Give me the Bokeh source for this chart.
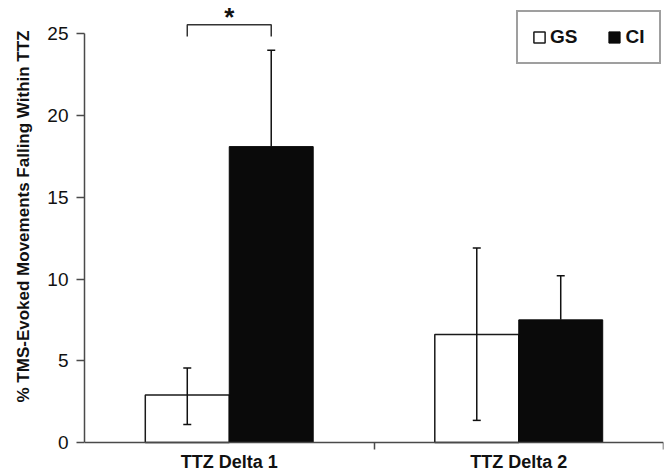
from bokeh.plotting import figure
from bokeh.models import (Range1d, FixedTicker, Whisker, ColumnDataSource, Legend,
                          LegendItem, TeeHead, Title)
from bokeh.core.properties import value
from bokeh.embed import file_html
from bokeh.resources import INLINE

# ---- data ----
categories = ["TTZ Delta 1", "TTZ Delta 2"]
groups = ["GS", "CI"]
gs_mean = [2.9, 6.6]
gs_lower = [1.1, 1.35]
gs_upper = [4.55, 11.9]
ci_mean = [18.1, 7.5]
ci_upper = [24.0, 10.2]
y_ticks = [0, 5, 10, 15, 20, 25]
y_label = "% TMS-Evoked Movements Falling Within TTZ"
sig_category = 0
sig_text = "*"

FONT = "Liberation Sans Narrow, Arial Narrow, Liberation Sans, Arial, sans-serif"
AXIS_COLOR = "#4a4a4a"
BAR_W = 0.29

centers = [i + 0.5 for i in range(len(categories))]
gs_x = [c - BAR_W / 2 for c in centers]
ci_x = [c + BAR_W / 2 for c in centers]

p = figure(width=664, height=473, output_backend="svg", toolbar_location=None,
           x_range=Range1d(0, len(categories)), y_range=Range1d(-1.90, 27.04),
           min_border_left=81, min_border_right=1, min_border_top=0, min_border_bottom=0)
p.outline_line_color = None
p.grid.visible = False
p.background_fill_color = "white"

src_gs = ColumnDataSource(dict(x=gs_x, top=gs_mean, lo=gs_lower, hi=gs_upper))
src_ci = ColumnDataSource(dict(x=ci_x, top=ci_mean, hi=ci_upper))

r_gs = p.vbar(x="x", top="top", bottom=0, width=BAR_W, source=src_gs,
              fill_color="white", line_color="#1a1a1a", line_width=1.5)
r_ci = p.vbar(x="x", top="top", bottom=0, width=BAR_W, source=src_ci,
              fill_color="#0a0a0a", line_color="#0a0a0a", line_width=1)

w_gs = Whisker(base="x", lower="lo", upper="hi", source=src_gs, dimension="height",
               line_color="#111111", line_width=1.5,
               upper_head=TeeHead(size=8, line_color="#111111", line_width=1.5),
               lower_head=TeeHead(size=8, line_color="#111111", line_width=1.5))
w_ci = Whisker(base="x", lower="top", upper="hi", source=src_ci, dimension="height",
               line_color="#111111", line_width=1.5,
               upper_head=TeeHead(size=8, line_color="#111111", line_width=1.5),
               lower_head=None)
for w in (w_gs, w_ci):
    w.level = "overlay"
    p.add_layout(w)

# significance bracket over the first category
top_val = max(gs_upper[sig_category], ci_upper[sig_category])
b_low = top_val + 0.83
b_high = top_val + 1.55
p.line(x=[gs_x[sig_category]] * 2 + [ci_x[sig_category]] * 2,
       y=[b_low, b_high, b_high, b_low], line_color="#333333", line_width=1.5)
p.text(x=[centers[sig_category]], y=[top_val + 2.06], text=[sig_text],
       text_font=value(FONT), text_font_size="26px", text_font_style="bold",
       text_align="center", text_baseline="middle", text_color="#111111")

# axes
xa = p.xaxis[0]
xa.fixed_location = 0
xa.ticker = FixedTicker(ticks=centers, minor_ticks=[i + 1 for i in range(len(categories))])
xa.major_label_overrides = {c: lab for c, lab in zip(centers, categories)}
xa.major_tick_line_color = None
xa.major_tick_out = 0
xa.major_tick_in = 0
xa.minor_tick_out = 7
xa.minor_tick_in = 0
xa.minor_tick_line_color = AXIS_COLOR
xa.minor_tick_line_width = 1.5
xa.axis_line_color = AXIS_COLOR
xa.axis_line_width = 1.5
xa.major_label_text_font = FONT
xa.major_label_text_font_style = "bold"
xa.major_label_text_font_size = "18px"
xa.major_label_text_color = "#111111"
xa.major_label_standoff = 3

ya = p.yaxis[0]
ya.bounds = (0, 25)
ya.ticker = FixedTicker(ticks=y_ticks, minor_ticks=[])
ya.major_tick_out = 8
ya.major_tick_in = 0
ya.major_tick_line_color = AXIS_COLOR
ya.major_tick_line_width = 1.5
ya.axis_line_color = AXIS_COLOR
ya.axis_line_width = 1.5
ya.major_label_text_font = FONT
ya.major_label_text_font_size = "19px"
ya.major_label_text_color = "#111111"
ya.major_label_standoff = 8

# y title as a side title, anchored at its top end like the reference's
ytitle = Title(text=y_label, align="right", offset=30, standoff=23,
               text_font=FONT, text_font_style="bold", text_font_size="17px",
               text_color="#111111")
p.add_layout(ytitle, "left")

legend = Legend(items=[LegendItem(label=groups[0], renderers=[r_gs]),
                       LegendItem(label=groups[1], renderers=[r_ci])],
                orientation="horizontal", location=(432, 409), margin=0,
                padding=14, spacing=30, glyph_width=14, glyph_height=14,
                label_standoff=4, label_height=18,
                label_text_font=FONT, label_text_font_style="bold",
                label_text_font_size="19px", label_text_color="#111111",
                border_line_color="#404040", border_line_width=2,
                background_fill_color="white", background_fill_alpha=1)
p.add_layout(legend)

open("out.html", "w").write(file_html(p, INLINE))
